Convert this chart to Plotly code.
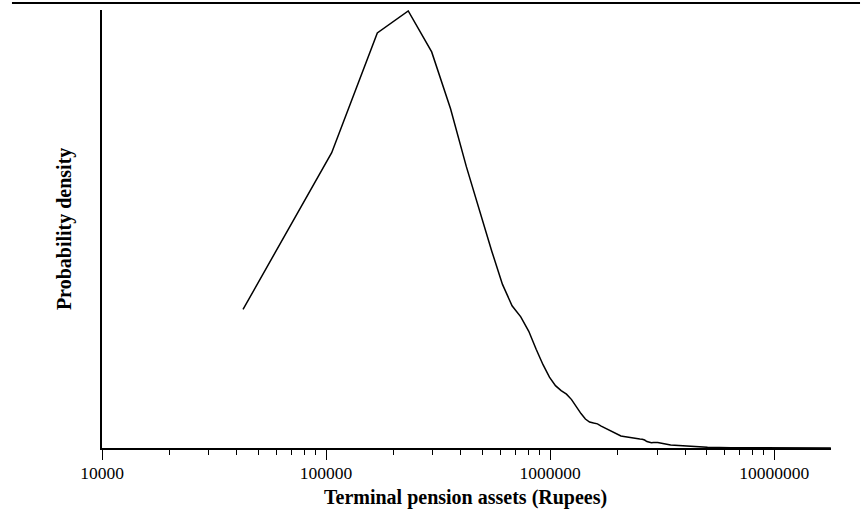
import plotly.graph_objects as go

# Kernel density estimate of terminal pension assets (arbitrary density units)
assets = [
    42600, 105960, 169320, 232680, 296040, 359400, 422760, 486120, 549480,
    612840, 676200, 739560, 802920, 866280, 929640, 993000, 1056360, 1119720,
    1183080, 1246440, 1309800, 1373160, 1436520, 1499880, 1563240, 1626600,
    1689960, 1753320, 1816680, 1880040, 1943400, 2006760, 2070120, 2133480,
    2196840, 2260200, 2323560, 2386920, 2450280, 2513640, 2577000, 2640360,
    2703720, 2767080, 2830440, 2893800, 2957160, 3020520, 3450000, 3960000,
    4700000, 5040000, 6400000, 8710000, 13100000, 17900000,
]
density = [
    139, 296, 416, 438, 397, 340, 282, 236, 197,
    164, 142.5, 131.5, 117, 99, 83.5, 71, 62.5, 57.5,
    54, 48.5, 41, 34.5, 29, 26, 25, 24.2,
    22, 20.2, 18.5, 16.7, 15, 13, 12, 11.5,
    11, 10.3, 9.7, 9.5, 9.2, 9, 8.7, 8,
    6.5, 5.5, 5.3, 5.5, 5.6, 5.5, 3, 2,
    1.3, 0.7, 0.3, 0.1, 0.02, 0,
]

major_ticks = [10000, 100000, 1000000, 10000000]
major_labels = ["10000", "100000", "1000000", "10000000"]
minor_ticks = [m * d for d in (10000, 100000, 1000000) for m in range(2, 10)]

serif = "Liberation Serif, Times New Roman, serif"

fig = go.Figure(
    go.Scatter(
        x=assets, y=density, mode="lines",
        line=dict(color="black", width=1.5),
        hoverinfo="skip",
    )
)

fig.update_layout(
    width=864, height=509,
    margin=dict(l=102, r=33, t=10, b=61),
    paper_bgcolor="white", plot_bgcolor="white",
    showlegend=False,
    font=dict(family=serif, color="black", size=18),
    xaxis=dict(
        type="log", range=[4, 7.2535],
        showline=True, linecolor="black", linewidth=1.5,
        showgrid=False, zeroline=False,
        ticks="outside", ticklen=10, tickwidth=1.3, tickcolor="black",
        tickmode="array", tickvals=major_ticks, ticktext=major_labels,
        tickfont=dict(family=serif, size=17.5, color="black"),
        ticklabelstandoff=-2,
        minor=dict(ticks="outside", ticklen=5, tickwidth=1.3,
                   tickcolor="black", tickmode="array", tickvals=minor_ticks,
                   showgrid=False),
    ),
    yaxis=dict(
        range=[0, 439],
        showline=True, linecolor="black", linewidth=1.5,
        showgrid=False, zeroline=False,
        ticks="", showticklabels=False,
    ),
    annotations=[
        dict(text="<b>Terminal pension assets (Rupees)</b>",
             xref="paper", yref="paper", x=0.4986, y=-0.113,
             xanchor="center", yanchor="middle", showarrow=False,
             font=dict(family=serif, size=20, color="black")),
        dict(text="<b>Probability density</b>",
             xref="paper", yref="paper", x=-0.052, y=0.5,
             xanchor="center", yanchor="middle", showarrow=False,
             textangle=-90,
             font=dict(family=serif, size=20, color="black")),
    ],
    shapes=[
        dict(type="line", xref="paper", yref="paper",
             x0=-0.1235, x1=1.0398, y0=1.016, y1=1.016,
             line=dict(color="black", width=2)),
    ],
)

fig.write_html("out.html")
